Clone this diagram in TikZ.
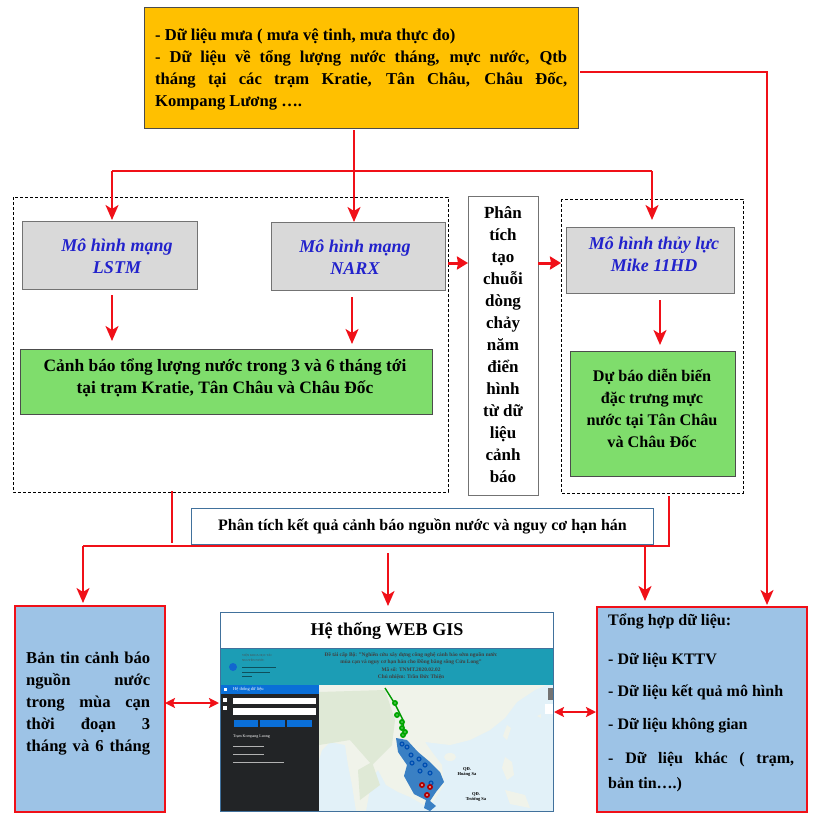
\documentclass[tikz,border=0pt]{standalone}
\usepackage{fontspec}
\setmainfont{Liberation Serif}
\usetikzlibrary{arrows.meta}
\definecolor{redl}{HTML}{F01018}
\definecolor{bluetxt}{HTML}{2222CC}
\definecolor{srcfill}{HTML}{FFC000}
\definecolor{grn}{HTML}{7FDD6C}
\definecolor{bluefill}{HTML}{9DC3E6}
\definecolor{edgeb}{HTML}{41719C}
\definecolor{teal1}{HTML}{1C9DB5}
\definecolor{side}{HTML}{222426}
\definecolor{btn}{HTML}{0A6FD8}
\definecolor{sea}{HTML}{E2F1F8}
\definecolor{land}{HTML}{F0F3EA}
\definecolor{land2}{HTML}{DFE9D6}
\definecolor{basin}{HTML}{3A80C4}
\newcommand{\jl}[2]{\makebox[#1][s]{#2}}
\tikzset{
  x=1pt,y=-1pt,
  body/.style={font=\fontsize{16.6}{22}\selectfont\bfseries,text=black,inner sep=0pt},
  modelbox/.style={draw=black!55,line width=.8pt,fill=black!15,inner sep=0pt,anchor=north west},
  modeltxt/.style={align=center,font=\fontsize{18}{22}\selectfont\bfseries\itshape,text=bluetxt,inner sep=0pt},
  greenbox/.style={draw=black!70,line width=.8pt,fill=grn,inner sep=0pt,anchor=north west},
  greentxt/.style={align=center,inner sep=0pt},
  bluebox/.style={draw=redl,line width=1.5pt,fill=bluefill,inner sep=0pt,anchor=north west},
  dashbox/.style={draw=black,line width=.9pt,densely dashed},
  wire/.style={draw=redl,line width=2pt},
  arr/.style={wire,-{Stealth[length=15pt,width=13pt,inset=4pt]}},
  harr/.style={wire,line width=3pt,-{Stealth[length=11pt,width=13pt,inset=1pt]}},
  darr/.style={wire,{Stealth[length=10pt,width=10pt,inset=2pt]}-{Stealth[length=10pt,width=10pt,inset=2pt]}},
  syn/.style={font=\fontsize{16}{20}\selectfont\bfseries,inner sep=0pt,anchor=west},
}
\begin{document}
\begin{tikzpicture}
\useasboundingbox (0,0) rectangle (814,819);
\fill[white] (0,0) rectangle (814,819);
% dashed groups
\draw[dashbox] (13,197) rectangle (448,492);
\draw[dashbox] (561,199) rectangle (743,493);
% source
\node[draw=black!70,line width=.8pt,fill=srcfill,minimum width=434pt,minimum height=121pt,inner sep=0pt,anchor=north west] (src) at (144,7) {};
\node[body,anchor=north west,align=left] (srctxt) at (155,29) {- Dữ liệu mưa ( mưa vệ tinh, mưa thực đo)\\
\jl{412pt}{- Dữ liệu về tổng lượng nước tháng, mực nước, Qtb}\\
\jl{412pt}{tháng tại các trạm Kratie, Tân Châu, Châu Đốc,}\\
Kompang Lương ….};
% models
\node[modelbox,minimum width=175pt,minimum height=68pt] (lstm) at (22,221) {};
\node[modeltxt] (lstmt) at (117,256) {Mô hình mạng\\LSTM};
\node[modelbox,minimum width=174pt,minimum height=68pt] (narx) at (271,222) {};
\node[modeltxt] (narxt) at (355,257) {Mô hình mạng\\NARX};
\node[modelbox,minimum width=168pt,minimum height=66pt] (mike) at (566,227) {};
\node[modeltxt] (miket) at (654,254) {Mô hình thủy lực\\Mike 11HD};
\node[greenbox,minimum width=412pt,minimum height=65pt] (warn) at (20,349) {};
\node[greentxt,font=\fontsize{17.4}{22}\selectfont\bfseries] (warnt) at (225,378) {Cảnh báo tổng lượng nước trong 3 và 6 tháng tới\\tại trạm Kratie, Tân Châu và Châu Đốc};
\node[greenbox,minimum width=165pt,minimum height=125pt] (fore) at (570,351) {};
\node[greentxt,font=\fontsize{16.2}{22}\selectfont\bfseries] (foret) at (652,408) {Dự báo diễn biến\\đặc trưng mực\\nước tại Tân Châu\\và Châu Đốc};
\node[draw=black!55,line width=.8pt,fill=white,minimum width=70pt,minimum height=299pt,inner sep=0pt,anchor=north west] (mid) at (468,196) {};
\node[align=center,inner sep=0pt,font=\fontsize{17}{22}\selectfont\bfseries] (midt) at (503,345) {Phân\\tích\\tạo\\chuỗi\\dòng\\chảy\\năm\\điển\\hình\\từ dữ\\liệu\\cảnh\\báo};
\node[draw=edgeb,line width=1pt,fill=white,minimum width=462pt,minimum height=36pt,inner sep=0pt,anchor=north west,font=\fontsize{16}{18}\selectfont\bfseries] (ana) at (191,508) {Phân tích kết quả cảnh báo nguồn nước và nguy cơ hạn hán};
% bottom boxes
\node[bluebox,minimum width=150pt,minimum height=206pt] (bul) at (14,605) {};
\node[body,anchor=north west,align=left] (bultxt) at (26,652) {\jl{124pt}{Bản tin cảnh báo}\\
\jl{124pt}{nguồn nước}\\
\jl{124pt}{trong mùa cạn}\\
\jl{124pt}{thời đoạn 3}\\
\jl{124pt}{tháng và 6 tháng}};
\node[bluebox,minimum width=210pt,minimum height=205pt] (synb) at (596,606) {};
\node[syn] (s0) at (608,621) {Tổng hợp dữ liệu:};
\node[syn] (s1) at (608,660) {- Dữ liệu KTTV};
\node[syn] (s2) at (608,692) {- Dữ liệu kết quả mô hình};
\node[syn] (s3) at (608,726) {- Dữ liệu không gian};
\node[syn] (s4) at (608,760) {\jl{186pt}{- Dữ liệu khác ( trạm,}};
\node[syn] (s5) at (608,785) {bản tin….)};
% web gis panel
\node[draw=edgeb,line width=1pt,fill=white,minimum width=333pt,minimum height=36pt,inner sep=0pt,anchor=north west,font=\fontsize{18}{22}\selectfont\bfseries] (gis) at (220,612) {Hệ thống WEB GIS};
\begin{scope}
\clip (220,648) rectangle (553,811);
\fill[teal1] (220,648) rectangle (553,685);
\fill[side] (220,685) rectangle (319,811);
\fill[btn] (220,685) rectangle (319,694);
\fill[sea] (319,685) rectangle (553,811);
% land
\fill[land] (319,685) -- (547,685) -- (535,690) -- (517,702) -- (505,718) -- (490,730) -- (470,740) -- (450,745) -- (425,742) -- (432,752) -- (442,765) -- (444,785) -- (433,802) -- (424,805) -- (410,797) -- (398,792) -- (386,785) -- (378,770) -- (372,778) -- (366,811) -- (356,811) -- (352,785) -- (348,765) -- (345,745) -- (330,742) -- (322,750) -- (319,760) -- cycle;
\fill[land] (450,757) ellipse (6 and 4);
\fill[land] (507,725) -- (511,728) -- (507,740) -- (503,736) -- cycle;
\fill[land] (505,757) -- (512,762) -- (514,775) -- (507,780) -- (502,768) -- cycle;
\fill[land] (505,790) -- (525,795) -- (530,808) -- (510,804) -- cycle;
\fill[land] (537,716) -- (541,714) -- (541,718) -- cycle;
\fill[land2] (319,692) -- (385,690) -- (395,720) -- (392,745) -- (372,765) -- (350,740) -- (319,745) -- cycle;
\fill[land2] (358,770) -- (372,762) -- (380,785) -- (360,800) -- cycle;
% basin
\fill[basin] (396,738) -- (407,740) -- (418,752) -- (430,762) -- (440,772) -- (444,782) -- (436,792) -- (430,801) -- (436,806) -- (430,811) -- (424,808) -- (426,800) -- (414,794) -- (404,776) -- (407,765) -- (398,752) -- cycle;
\draw[green!60!black,line width=1.4pt] (385,688) -- (395,704) -- (403,720) -- (404,734);
\foreach \p/\q in {395/703,397/715,402/722,402/728,403/735,405/732}{\fill[green!65!black] (\p,\q) circle (3);\fill[white] (\p,\q) circle (.7);}
\foreach \p/\q in {402/744,407/747,411/755,419/759,425/765,430/773,431/783,412/763,420/771}{\fill[blue!55!cyan!70!black] (\p,\q) circle (2.6);\fill[white] (\p,\q) circle (.7);}
\foreach \p/\q in {422/785,430/787,427/795}{\fill[red!70!black] (\p,\q) circle (3);\fill[white] (\p,\q) circle (.9);}
\fill[black!55] (548,688) rectangle (553,700);
\fill[white] (545,704) rectangle (553,714);
% header text
\node[font=\fontsize{5.4}{7.5}\selectfont\bfseries,text=black!75,align=center,inner sep=0pt] (hdr) at (411,666) {Đề tài cấp Bộ: "Nghiên cứu xây dựng công nghệ cảnh báo sớm nguồn nước\\mùa cạn và nguy cơ hạn hán cho Đồng bằng sông Cửu Long"\\Mã số: TNMT.2020.02.02\\Chủ nhiệm: Trần Đức Thiện};
\node[font=\fontsize{3}{5}\selectfont,text=black!70,align=left,inner sep=0pt,anchor=north west] (org) at (242,654) {VIỆN KHOA HỌC TÀI\\NGUYÊN NƯỚC};
\draw[black!50!teal1,line width=.5pt] (242,667) -- (276,667) (242,672) -- (270,672) (242,676) -- (252,676);
\fill[blue!35!teal1] (233,667) circle (4);
% sidebar
\node[font=\fontsize{4.5}{5}\selectfont,text=white,inner sep=0pt,anchor=west] (sidel) at (233,689.5) {Hệ thống dữ liệu};
\fill[white] (224,688) rectangle (227,691);
\fill[white] (223,698) rectangle (227,702);
\fill[white] (223,706) rectangle (227,710);
\fill[white] (233,698) rectangle (316,704);
\fill[white] (233,708) rectangle (316,715);
\fill[btn] (234,720) rectangle (258,727);
\fill[btn] (260,720) rectangle (285,727);
\fill[btn] (287,720) rectangle (312,727);
\node[font=\fontsize{4}{5}\selectfont,text=white,inner sep=0pt,anchor=west] (st) at (233,737) {Trạm Kompang Luong};
\draw[white!70!black,line width=.6pt] (233,746) -- (264,746) (233,754) -- (264,754) (233,762) -- (284,762);
% labels
\node[font=\fontsize{4.5}{5.5}\selectfont\bfseries,align=center,inner sep=0pt] (hs) at (467,772) {QĐ.\\Hoàng Sa};
\node[font=\fontsize{4.5}{5.5}\selectfont\bfseries,align=center,inner sep=0pt] (ts) at (476,797) {QĐ.\\Trường Sa};
\end{scope}
\node[draw=edgeb,line width=1pt,minimum width=333pt,minimum height=163pt,inner sep=0pt,anchor=north west] (shot) at (220,648) {};
% connectors
\coordinate (c1) at (354,130);
\coordinate (l1) at (112,171);
\coordinate (l2) at (652,171);
\draw[arr] (c1) -- (narx.north -| c1);
\draw[wire] (l1) -- (l2);
\draw[arr] (l1) -- (112,220);
\draw[arr] (l2) -- (652,220);
\coordinate (r1) at (580,72);
\coordinate (r2) at (767,72);
\draw[arr] (r1) -- (r2) -- (767,605);
\draw[arr] (112,295) -- (112,341);
\draw[arr] (352,297) -- (352,344);
\draw[arr] (660,300) -- (660,345);
\draw[harr] (448,263) -- (468,263);
\draw[harr] (538,263) -- (561,263);
\coordinate (b1) at (172,491);
\coordinate (b2) at (669,496);
\coordinate (b3) at (669,546);
\coordinate (b4) at (83,546);
\draw[wire,line width=1.4pt] (b1) -- (172,543);
\draw[wire] (b2) -- (b3) -- (b4);
\draw[arr] (b4) -- (83,603);
\draw[arr] (388,553) -- (388,606);
\draw[arr] (645,547) -- (645,601);
\draw[darr] (165,703) -- (219,703);
\draw[darr] (554,712) -- (596,712);
\end{tikzpicture}
\end{document}
